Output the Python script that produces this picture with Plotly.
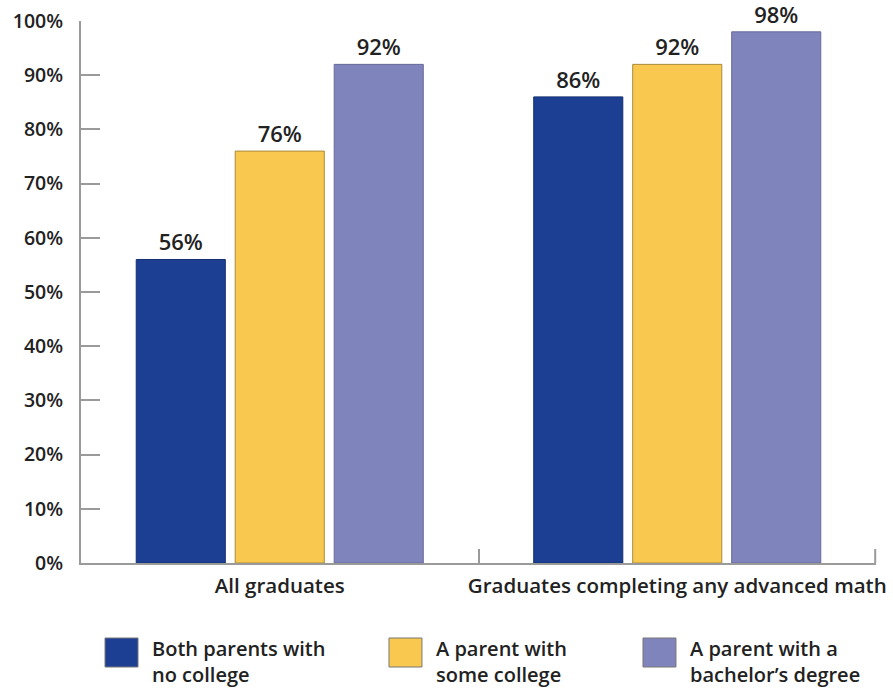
import plotly.graph_objects as go

categories = ["All graduates", "Graduates completing any advanced math"]
series_names = ["Both parents with<br>no college", "A parent with<br>some college", "A parent with a<br>bachelor\u2019s degree"]
no_college = [56, 86]
some_college = [76, 92]
bachelors = [92, 98]
y_ticks = [0, 10, 20, 30, 40, 50, 60, 70, 80, 90, 100]
y_tick_labels = [f"{v}%" for v in y_ticks]

series_values = [no_college, some_college, bachelors]
colors = ["#1c3f94", "#f9c94f", "#8084bc"]
edge_colors = ["#14306f", "#a88a3a", "#66699a"]

FONT = "Open Sans"
TXT = "#222222"
AXIS = "#9a9a9a"

fig = go.Figure()
for name, vals, c, ec in zip(series_names, series_values, colors, edge_colors):
    fig.add_trace(go.Bar(
        x=categories, y=vals, name=name,
        marker=dict(color=c, line=dict(color=ec, width=1)),
        text=[f"{v}%" for v in vals], textposition="outside",
        textfont=dict(family=FONT, size=22, color=TXT, weight=600),
        cliponaxis=False, showlegend=False,
    ))

fig.update_layout(
    width=893, height=689,
    margin=dict(l=81, r=17, t=21, b=126, autoexpand=False),
    paper_bgcolor="white", plot_bgcolor="white",
    barmode="group", bargap=0.253, bargroupgap=0.1,
    font=dict(family=FONT, size=21, color=TXT),
    xaxis=dict(
        type="category", showline=True, linecolor=AXIS, linewidth=2,
        ticks="inside", tickson="boundaries", ticklen=14, tickcolor=AXIS, tickwidth=2,
        showgrid=False, automargin=False, tickangle=0,
        tickfont=dict(family=FONT, size=20.5, color=TXT, weight=600),
        ticklabelstandoff=3,
    ),
    yaxis=dict(
        range=[0, 100], tickvals=y_ticks, ticktext=y_tick_labels,
        showline=True, linecolor=AXIS, linewidth=2,
        ticks="inside", ticklen=19, tickcolor=AXIS, tickwidth=2,
        showgrid=False, zeroline=False, automargin=False,
        tickfont=dict(family=FONT, size=19.5, color=TXT, weight=600),
        ticklabelstandoff=12,
    ),
)

# closing boundary tick at the right end of the category axis
fig.add_shape(type="line", xref="paper", yref="paper", x0=0.999, x1=0.999,
              y0=0, y1=0.0258, line=dict(color=AXIS, width=2))

# Custom legend (large swatches) built from the series names/colours
legend_x = [0.0302, 0.3874, 0.7069]
for name, c, ec, lx in zip(series_names, colors, edge_colors, legend_x):
    fig.add_shape(type="rect", xref="paper", yref="paper",
                  x0=lx, x1=lx + 0.0415, y0=-0.1919, y1=-0.1384,
                  fillcolor=c, line=dict(color="#777777", width=1))
    fig.add_annotation(xref="paper", yref="paper", x=lx + 0.0566, y=-0.1290,
                       xanchor="left", yanchor="top", align="left",
                       text=name, showarrow=False,
                       font=dict(family=FONT, size=20, color=TXT, weight=600))

fig.write_html("out.html")
